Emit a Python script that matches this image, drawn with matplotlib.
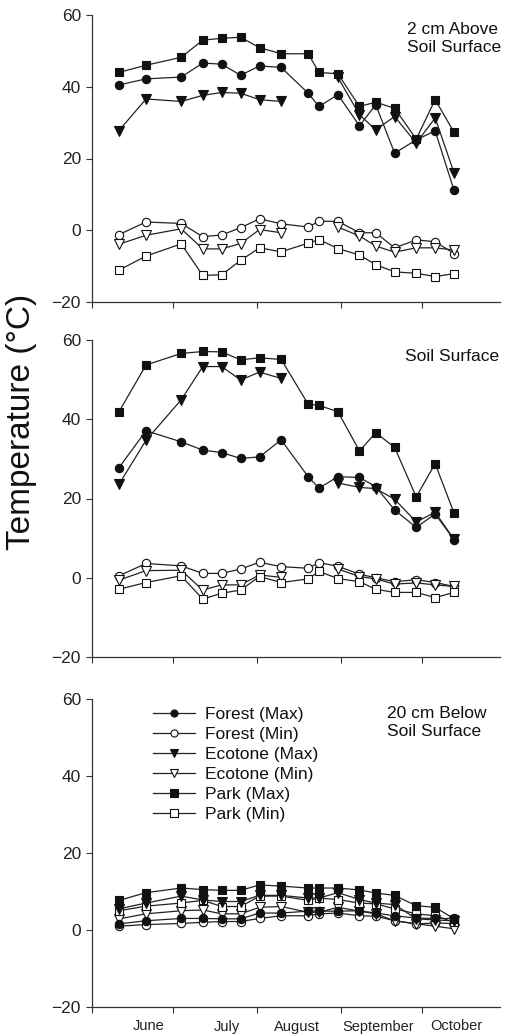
import numpy as np
import matplotlib
matplotlib.use('Agg')
from matplotlib import pyplot as plt

plt.rcParams['font.family'] = ['Liberation Sans', 'DejaVu Sans']

nan = np.nan

# Sampling dates, days after 1 June.
days = [10, 20, 33, 41, 48, 55, 62, 70, 80, 84, 91, 99, 105, 112, 120, 127, 134]
month_starts = [0, 30, 61, 92, 122]
month_names = ['June', 'July', 'August', 'September', 'October']
month_label_pos = [21, 50, 76, 106, 135]

# 2 cm above soil surface
above_forest_max = [40.5, 42.2, 42.7, 46.6, 46.3, 43.2, 45.8, 45.4, 38.2, 34.5,
                    37.8, 29.1, 35.0, 21.5, 25.2, 27.7, 11.1]
above_forest_min = [-1.2, 2.3, 1.9, -1.8, -1.3, 0.7, 3.2, 1.8, 0.9, 2.5,
                    2.5, -0.7, -0.7, -4.9, -2.7, -3.2, -6.5]
above_ecotone_max = [27.8, 36.6, 35.9, 37.6, 38.4, 38.2, 36.4, 35.9, nan, nan,
                     42.6, 32.2, 28.0, 31.7, 24.3, 31.3, 16.0]
above_ecotone_min = [-3.9, -1.4, 0.4, -5.2, -5.2, -3.7, 0.2, -0.7, nan, nan,
                     0.9, -1.6, -4.4, -6.1, -4.9, -4.9, -5.5]
above_park_max = [44.0, 46.0, 48.2, 53.0, 53.5, 53.8, 50.9, 49.2, 49.2, 44.0,
                  43.6, 34.5, 35.7, 34.0, 25.4, 36.4, 27.3]
above_park_min = [-11.1, -7.2, -3.8, -12.6, -12.4, -8.4, -4.9, -6.0, -3.6, -2.6,
                  -5.1, -6.9, -9.6, -11.6, -12.0, -12.9, -12.1]

# Soil surface
surf_forest_max = [27.8, 37.1, 34.3, 32.2, 31.6, 30.1, 30.5, 34.8, 25.5, 22.6,
                   25.5, 25.3, 23.0, 17.1, 12.7, 16.1, 9.6]
surf_forest_min = [0.5, 3.6, 3.0, 1.1, 1.1, 2.2, 3.9, 2.8, 2.4, 3.8,
                   2.9, 0.9, 0.0, -1.0, -0.5, -1.2, -2.2]
surf_ecotone_max = [23.6, 34.7, 44.9, 53.3, 53.3, 49.9, 51.9, 50.3, nan, nan,
                    23.9, 22.8, 22.5, 19.8, 14.1, 16.5, 9.7]
surf_ecotone_min = [-0.6, 1.8, 1.9, -3.1, -1.8, -1.8, 0.7, 0.1, nan, nan,
                    2.2, 0.3, -0.3, -1.6, -1.3, -1.8, -2.2]
surf_park_max = [41.9, 53.7, 56.6, 57.1, 57.0, 55.0, 55.5, 55.1, 43.8, 43.5,
                 41.9, 32.0, 36.6, 32.9, 20.4, 28.8, 16.3]
surf_park_min = [-2.9, -1.2, 0.5, -5.4, -3.9, -3.1, 0.3, -1.2, -0.3, 1.6,
                 -0.2, -1.0, -2.9, -3.7, -3.7, -5.0, -3.7]

# 20 cm below soil surface
below_forest_max = [1.6, 2.4, 3.0, 3.0, 2.9, 2.9, 4.4, 4.4, 4.9, 4.9,
                    4.9, 5.0, 4.4, 3.7, 3.1, 3.0, 3.0]
below_forest_min = [1.0, 1.4, 1.7, 2.0, 2.2, 2.2, 3.0, 3.7, 3.7, 4.2,
                    4.4, 3.7, 3.6, 2.4, 1.6, 1.8, 1.7]
below_ecotone_max = [5.5, 7.0, 8.8, 7.8, 7.4, 7.4, 9.0, 9.0, 8.3, 8.3,
                     9.7, 7.9, 7.0, 6.6, 2.9, 2.6, 2.4]
below_ecotone_min = [2.9, 4.2, 5.0, 5.2, 4.2, 4.2, 5.9, 6.1, 4.6, 4.6,
                     5.9, 4.9, 4.2, 2.4, 1.6, 1.0, 0.3]
below_park_max = [7.7, 9.7, 10.9, 10.5, 10.3, 10.3, 11.7, 11.4, 10.9, 10.9,
                  10.9, 10.4, 9.6, 9.0, 6.3, 5.9, 2.9]
below_park_min = [5.0, 6.2, 7.0, 7.7, 6.1, 6.1, 8.8, 8.8, 7.7, 8.3,
                  7.9, 7.0, 6.8, 5.5, 4.2, 3.7, 2.0]

labels = ['Forest (Max)', 'Forest (Min)', 'Ecotone (Max)', 'Ecotone (Min)',
          'Park (Max)', 'Park (Min)']
markers = ['o', 'o', 'v', 'v', 's', 's']
fills = ['#111111', 'white', '#111111', 'white', '#111111', 'white']

panels = [
    [above_forest_max, above_forest_min, above_ecotone_max,
     above_ecotone_min, above_park_max, above_park_min],
    [surf_forest_max, surf_forest_min, surf_ecotone_max,
     surf_ecotone_min, surf_park_max, surf_park_min],
    [below_forest_max, below_forest_min, below_ecotone_max,
     below_ecotone_min, below_park_max, below_park_min],
]

W, H = 505, 1036
fig = plt.figure(figsize=(W / 100, H / 100), dpi=100)

# axes boxes in pixels: (top, bottom)
boxes = [(15, 302), (340, 657), (699, 1007)]
left_px, right_px = 92, 500

axes = []
for i, (top, bottom) in enumerate(boxes):
    ax = fig.add_axes([left_px / W, 1 - bottom / H,
                       (right_px - left_px) / W, (bottom - top) / H])
    for series, mk, fc, lab in zip(panels[i], markers, fills, labels):
        # filled (max) markers sit on top of the open (min) ones
        ax.plot(days, series, color='#222222', lw=0.9, marker=mk,
                markersize=6 if mk != 'v' else 6.5, markerfacecolor=fc,
                markeredgecolor='#111111', markeredgewidth=0.8, label=lab,
                zorder=3 if fc != 'white' else 2)
    ax.set_xlim(0, 151)
    ax.set_ylim(-20, 60)
    ax.set_yticks([-20, 0, 20, 40, 60])
    ax.set_xticks(month_starts)
    ax.set_xticklabels([])
    for s in ['top', 'right']:
        ax.spines[s].set_visible(False)
    for s in ['left', 'bottom']:
        ax.spines[s].set_linewidth(0.9)
        ax.spines[s].set_color('#333333')
    ax.tick_params(axis='both', direction='out', length=4, width=0.8,
                   color='#333333', labelsize=12.5, labelcolor='#222222', pad=4)
    axes.append(ax)

ax3 = axes[2]
ax3.set_xticks(month_label_pos, minor=True)
ax3.set_xticklabels(month_names, minor=True, fontsize=10.5, color='#222222')
ax3.tick_params(axis='x', which='minor', length=0, pad=9)

leg = ax3.legend(loc='upper left', bbox_to_anchor=(0.15, 0.975), frameon=False,
                 fontsize=12.5, handlelength=2.4, handletextpad=0.6,
                 labelspacing=0.28, borderpad=0, borderaxespad=0,
                 markerscale=0.85)
for t in leg.get_texts():
    t.set_color('#111111')

fig.text(407 / W, 1 - 38 / H, '2 cm Above\nSoil Surface', fontsize=12.5,
         ha='left', va='center', linespacing=1.25, color='#111111')
fig.text(405 / W, 1 - 357 / H, 'Soil Surface', fontsize=12.5,
         ha='left', va='center', color='#111111')
fig.text(387 / W, 1 - 723 / H, '20 cm Below\nSoil Surface', fontsize=12.5,
         ha='left', va='center', linespacing=1.25, color='#111111')

fig.text(22 / W, 1 - 422 / H, 'Temperature (°C)', fontsize=24,
         rotation=90, ha='center', va='center', color='#111111')

fig.savefig('out.png', dpi=100)
